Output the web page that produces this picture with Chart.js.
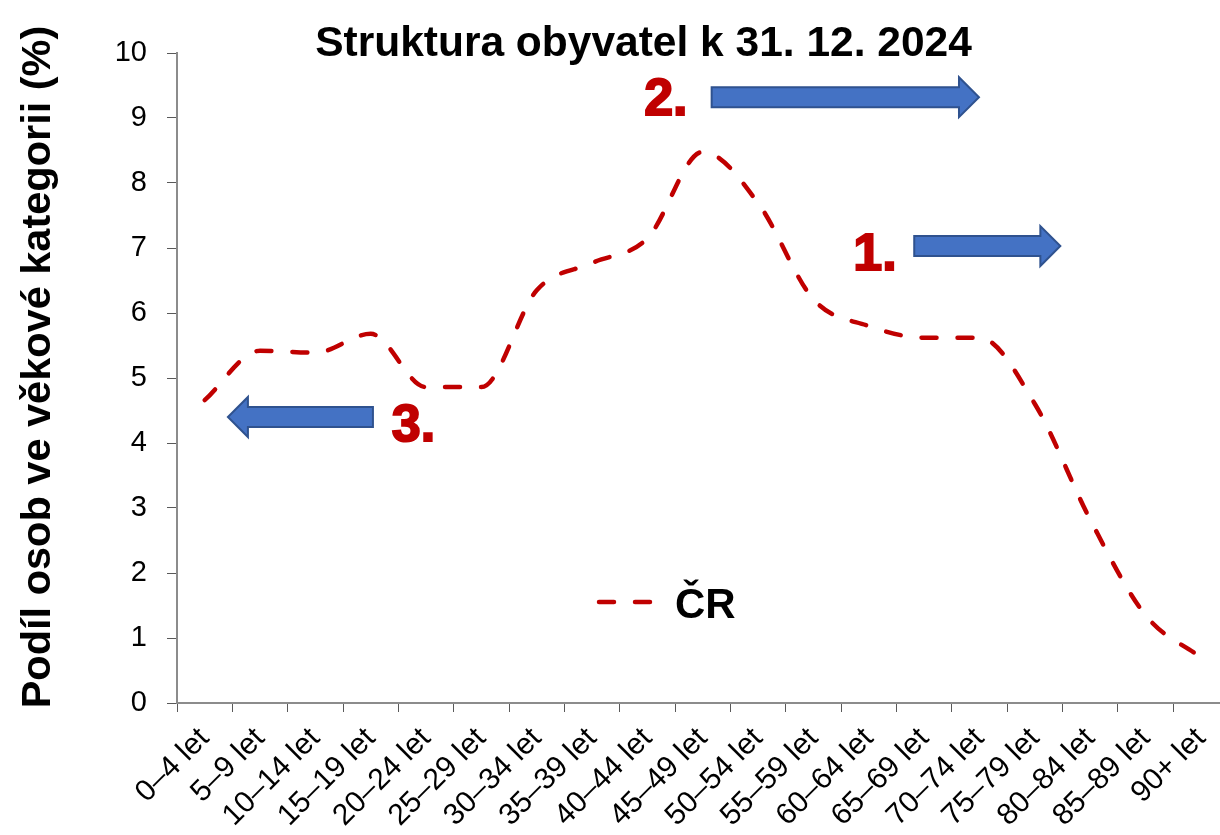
<!DOCTYPE html>
<html>
<head>
<meta charset="utf-8">
<title>Struktura obyvatel k 31. 12. 2024</title>
<script src="https://cdn.jsdelivr.net/npm/chart.js@4.4.1/dist/chart.umd.min.js"></script>
<style>
  html, body { margin: 0; padding: 0; background: #fff; overflow: hidden; }
  /* plot runs a bit past the right edge of the window, like the original */
  #wrap { position: relative; width: 1240px; height: 835px; }
</style>
</head>
<body>
<div id="wrap"><canvas id="popChart"></canvas></div>
<script>
// Data
const ageGroups = ['0–4 let', '5–9 let', '10–14 let', '15–19 let', '20–24 let', '25–29 let',
  '30–34 let', '35–39 let', '40–44 let', '45–49 let', '50–54 let', '55–59 let', '60–64 let',
  '65–69 let', '70–74 let', '75–79 let', '80–84 let', '85–89 let', '90+ let'];
const sharesCR = [4.66, 5.42, 5.39, 5.68, 4.86, 4.86, 6.35, 6.77, 7.15, 8.48,
  7.69, 6.21, 5.80, 5.62, 5.62, 4.60, 2.82, 1.35, 0.70];
const yTicks = [0, 1, 2, 3, 4, 5, 6, 7, 8, 9, 10];

const FONT = '"Liberation Sans", Arial, sans-serif';
const RED = '#C00000';
const yTitle = 'Podíl osob ve věkové kategorii (%)';

// Arrows + numbers drawn on top, placed in axis units (category index, value)
const arrows = [
  { from: 9.16, to: 13.99, y: 9.32 },   // 2.
  { from: 12.82, to: 15.46, y: 7.03 },  // 1.
  { from: 3.04, to: 0.42, y: 4.40 }     // 3.
];
const marks = [
  { text: '2.', x: 7.94, y: 9.05 },
  { text: '1.', x: 11.72, y: 6.66 },
  { text: '3.', x: 3.38, y: 4.03 }
];

function drawArrow(ctx, x0, x1, yc) {
  const dir = Math.sign(x1 - x0);
  const shaft = 10, head = 20, headLen = 20;
  const xb = x1 - dir * headLen;
  ctx.beginPath();
  ctx.moveTo(x0, yc - shaft);
  ctx.lineTo(xb, yc - shaft);
  ctx.lineTo(xb, yc - head);
  ctx.lineTo(x1, yc);
  ctx.lineTo(xb, yc + head);
  ctx.lineTo(xb, yc + shaft);
  ctx.lineTo(x0, yc + shaft);
  ctx.closePath();
  ctx.fillStyle = '#4472C4';
  ctx.fill();
  ctx.strokeStyle = '#2F528F';
  ctx.lineWidth = 2;
  ctx.stroke();
}

// Title, axis title, legend and the annotations
const overlay = {
  id: 'overlay',
  afterDatasetsDraw(chart) {
    const { ctx, chartArea, scales: { x, y } } = chart;
    ctx.save();

    ctx.fillStyle = '#000';
    ctx.textAlign = 'center';
    ctx.textBaseline = 'alphabetic';
    ctx.font = 'bold 42.5px ' + FONT;
    ctx.fillText('Struktura obyvatel k 31. 12. 2024', 643.5, chartArea.top + 3);

    // y axis title, a bit above the middle of the plot like in the original
    ctx.save();
    ctx.translate(39, 367);
    ctx.rotate(-Math.PI / 2);
    ctx.textBaseline = 'middle';
    ctx.font = 'bold 41.5px ' + FONT;
    ctx.fillText(yTitle, 0, 0);
    ctx.restore();

    arrows.forEach(a => {
      drawArrow(ctx, x.getPixelForValue(a.from), x.getPixelForValue(a.to), y.getPixelForValue(a.y));
    });

    ctx.font = 'bold 52px ' + FONT;
    ctx.textAlign = 'left';
    ctx.fillStyle = RED;
    ctx.strokeStyle = RED;
    ctx.lineWidth = 2;
    marks.forEach(m => {
      const px = x.getPixelForValue(m.x), py = y.getPixelForValue(m.y);
      ctx.fillText(m.text, px, py);
      ctx.strokeText(m.text, px, py);
    });

    // legend
    const ds = chart.data.datasets[0];
    ctx.beginPath();
    ctx.setLineDash(ds.borderDash);
    ctx.lineCap = 'round';
    ctx.lineWidth = ds.borderWidth;
    ctx.strokeStyle = ds.borderColor;
    ctx.moveTo(599, 602);
    ctx.lineTo(656, 602);
    ctx.stroke();
    ctx.setLineDash([]);
    ctx.fillStyle = '#000';
    ctx.font = 'bold 42px ' + FONT;
    ctx.fillText(ds.label, 675, 618);

    ctx.restore();
  }
};

const ctx = document.getElementById('popChart').getContext('2d');
new Chart(ctx, {
  type: 'line',
  data: {
    labels: ageGroups,
    datasets: [{
      label: 'ČR',
      data: sharesCR,
      borderColor: RED,
      borderWidth: 4.5,
      borderDash: [15, 21],
      borderCapStyle: 'round',
      pointRadius: 0,
      cubicInterpolationMode: 'monotone',
      fill: false
    }]
  },
  options: {
    responsive: true,
    maintainAspectRatio: false,
    animation: false,
    layout: { padding: { top: 53, right: 11.4, left: 0, bottom: 0 } },
    plugins: {
      legend: { display: false },
      title: { display: false },
      tooltip: { enabled: false }
    },
    scales: {
      x: {
        offset: true,
        grid: { offset: true, drawOnChartArea: false, tickLength: 9, color: '#595959', lineWidth: 1 },
        border: { color: '#8c8c8c', width: 2 },
        ticks: {
          color: '#000',
          font: { family: FONT, size: 30 },
          minRotation: 45,
          maxRotation: 45,
          autoSkip: false,
          padding: 9
        },
        afterFit: s => { s.height = 132; }
      },
      y: {
        min: 0,
        max: 10,
        afterBuildTicks: s => { s.ticks = yTicks.map(v => ({ value: v })); },
        grid: { drawOnChartArea: false, tickLength: 10, color: '#595959', lineWidth: 1 },
        border: { color: '#8c8c8c', width: 2 },
        ticks: { color: '#000', font: { family: FONT, size: 29 }, padding: 20 },
        afterFit: s => { s.width = 177; }
      }
    }
  },
  plugins: [overlay]
});
</script>
</body>
</html>
